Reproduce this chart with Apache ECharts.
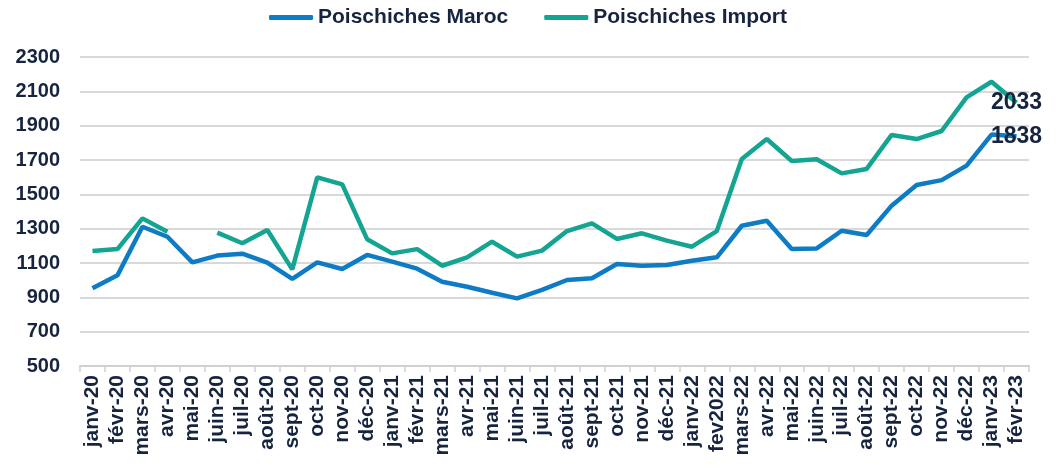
<!DOCTYPE html>
<html>
<head>
<meta charset="utf-8">
<script src="https://cdn.jsdelivr.net/npm/echarts@6/dist/echarts.min.js"></script>
<style>
  html, body { margin: 0; padding: 0; background: #fff; }
  #chart { width: 1056px; height: 468px; }
</style>
</head>
<body>
<div id="chart"></div>
<script>
const months = [
  'janv-20', 'févr-20', 'mars-20', 'avr-20', 'mai-20', 'juin-20', 'juil-20', 'août-20', 'sept-20', 'oct-20', 'nov-20', 'déc-20',
  'janv-21', 'févr-21', 'mars-21', 'avr-21', 'mai-21', 'juin-21', 'juil-21', 'août-21', 'sept-21', 'oct-21', 'nov-21', 'déc-21',
  'janv-22', 'fev2022', 'mars-22', 'avr-22', 'mai-22', 'juin-22', 'juil-22', 'août-22', 'sept-22', 'oct-22', 'nov-22', 'déc-22',
  'janv-23', 'févr-23'
]

const maroc = [
  953, 1028, 1311, 1253, 1104, 1143, 1154, 1102, 1007, 1104, 1065, 1147,
  1108, 1067, 991, 962, 927, 894, 943, 1001, 1011, 1094, 1084, 1088,
  1113, 1133, 1317, 1346, 1181, 1185, 1288, 1263, 1434, 1554, 1583, 1667,
  1848, 1838
]

const importe = [
  1170, 1181, 1360, 1282, null, 1277, 1215, 1292, 1063, 1599, 1558, 1238,
  1156, 1181, 1084, 1133, 1224, 1137, 1172, 1286, 1331, 1240, 1273, 1230,
  1195, 1286, 1706, 1822, 1694, 1704, 1622, 1648, 1846, 1822, 1869, 2065,
  2156, 2033
]

const yTicks = { min: 500, max: 2300, interval: 200 }

const navy = '#16243f'

const chart = echarts.init(document.getElementById('chart'))

// value shown on top of the last point of each line
const lastValue = {
  show: true,
  align: 'center',
  verticalAlign: 'middle',
  distance: 0,
  color: navy,
  fontFamily: 'Liberation Sans',
  fontWeight: 'bold',
  fontSize: 23,
  formatter: (p) => String(p.value[1] ?? p.value)
}

chart.setOption({
  animation: false,
  textStyle: { fontFamily: 'Liberation Sans' },
  legend: {
    top: 2,
    left: 'center',
    itemWidth: 44,
    itemHeight: 5,
    itemGap: 36,
    icon: 'roundRect',
    textStyle: { color: navy, fontWeight: 'bold', fontSize: 21, fontFamily: 'Liberation Sans' },
    data: ['Poischiches Maroc', 'Poischiches Import']
  },
  grid: { left: 80, right: 27, top: 57, bottom: 102 },
  xAxis: {
    type: 'category',
    data: months,
    boundaryGap: true,
    axisLine: { lineStyle: { color: '#d0d0d0', width: 2 } },
    axisTick: { show: true, length: 6, lineStyle: { color: '#d0d0d0', width: 1.5 } },
    axisLabel: {
      rotate: 90,
      interval: 0,
      margin: 9,
      color: navy,
      fontWeight: 'bold',
      fontSize: 21,
      fontFamily: 'Liberation Sans'
    }
  },
  yAxis: {
    type: 'value',
    min: yTicks.min,
    max: yTicks.max,
    interval: yTicks.interval,
    axisLine: { show: false },
    axisTick: { show: false },
    axisLabel: {
      color: navy,
      fontWeight: 'bold',
      fontSize: 20,
      margin: 20,
      fontFamily: 'Liberation Sans',
      formatter: (v) => String(v)
    },
    splitLine: { lineStyle: { color: '#d9d9d9', width: 2 } }
  },
  series: [
    {
      name: 'Poischiches Maroc',
      type: 'line',
      data: maroc,
      symbol: 'none',
      color: '#0d7cc4',
      lineStyle: { width: 4.5, color: '#0d7cc4' },
      endLabel: lastValue,
      z: 3
    },
    {
      name: 'Poischiches Import',
      type: 'line',
      data: importe,
      symbol: 'none',
      connectNulls: false,
      color: '#13a592',
      lineStyle: { width: 4.5, color: '#13a592' },
      endLabel: lastValue,
      z: 2
    }
  ]
})
</script>
</body>
</html>
